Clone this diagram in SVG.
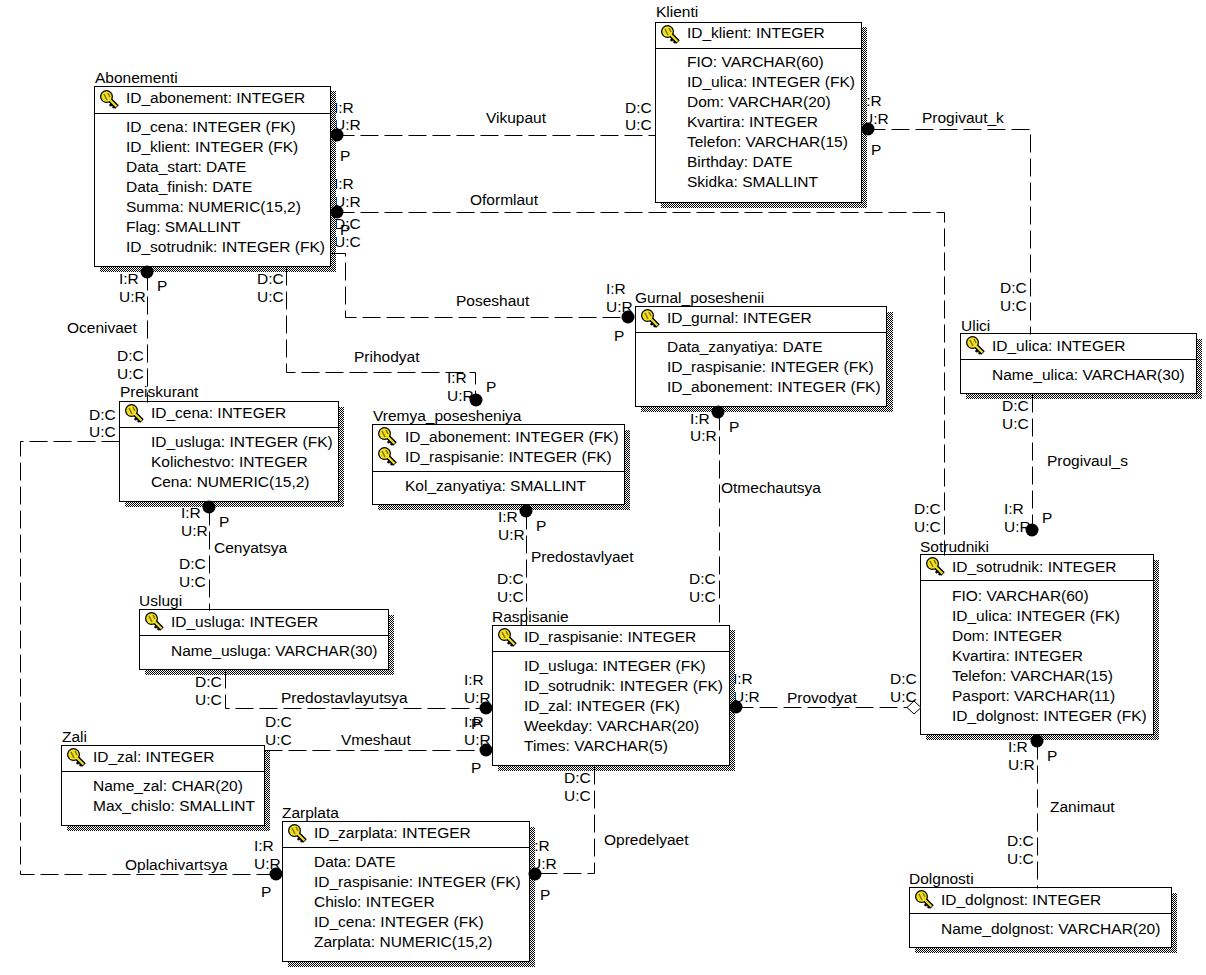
<svg xmlns="http://www.w3.org/2000/svg" width="1206" height="975" viewBox="0 0 1206 975">
<style>
text{font-family:"Liberation Sans",Arial,sans-serif;font-size:15.5px;fill:#000}
.box{fill:#fff;stroke:#000;stroke-width:1}
.sh{fill:url(#dith)}
.div{stroke:#000;stroke-width:1}
.c{fill:none;stroke:#000;stroke-width:1;stroke-dasharray:18 6}
.dot{fill:#000}
</style>
<defs>
<pattern id="dith" width="2" height="2" patternUnits="userSpaceOnUse"><rect width="2" height="2" fill="#fff"/><rect width="1" height="1" fill="#000"/><rect x="1" y="1" width="1" height="1" fill="#000"/></pattern>
<g id="key"><path d="M9 9l8 8" stroke="#000" stroke-width="5" fill="none"/><path d="M12 13l-2 3M15 15l-2 3" stroke="#000" stroke-width="2.500" fill="none"/><circle cx="6.500" cy="6.500" r="6.500" fill="#000"/><circle cx="6.500" cy="6.500" r="5.200" fill="#f0e020"/><path d="M4 4l3 6M8 3l2 4" stroke="#807000" stroke-width="1.500" fill="none"/><path d="M9.500 9.500l7 7" stroke="#f0e020" stroke-width="2.200" fill="none"/></g>
</defs>
<g id="labels">
<text x="486" y="123">Vikupaut</text><text x="470" y="205">Oformlaut</text><text x="456" y="306">Poseshaut</text><text x="354" y="362">Prihodyat</text><text x="67" y="333">Ocenivaet</text><text x="125" y="870">Oplachivartsya</text><text x="214" y="553">Cenyatsya</text><text x="531" y="562">Predostavlyaet</text><text x="721" y="493">Otmechautsya</text><text x="281" y="703">Predostavlayutsya</text><text x="341" y="745">Vmeshaut</text><text x="604" y="845">Opredelyaet</text><text x="787" y="703">Provodyat</text><text x="922" y="123">Progivaut_k</text><text x="1047" y="466">Progivaul_s</text><text x="1050" y="812">Zanimaut</text>
<text x="334" y="113">I:R</text><text x="334" y="130">U:R</text><text x="340" y="161">P</text>
<text x="334" y="189">I:R</text><text x="334" y="207">U:R</text><text x="334" y="229">D:C</text><text x="340" y="235">P</text><text x="334" y="247">U:C</text>
<text x="625" y="113">D:C</text><text x="625" y="130">U:C</text>
<text x="862" y="106">I:R</text><text x="862" y="124">U:R</text><text x="871" y="155">P</text>
<text x="119" y="284">I:R</text><text x="119" y="302">U:R</text><text x="157" y="291">P</text>
<text x="257" y="284">D:C</text><text x="257" y="302">U:C</text>
<text x="606" y="294">I:R</text><text x="606" y="312">U:R</text><text x="614" y="341">P</text>
<text x="447" y="383">I:R</text><text x="447" y="401">U:R</text><text x="486" y="392">P</text>
<text x="1000" y="293">D:C</text><text x="1000" y="311">U:C</text>
<text x="117" y="361">D:C</text><text x="117" y="379">U:C</text>
<text x="89" y="420">D:C</text><text x="89" y="437">U:C</text>
<text x="690" y="424">I:R</text><text x="690" y="441">U:R</text><text x="729" y="432">P</text>
<text x="1002" y="411">D:C</text><text x="1002" y="429">U:C</text>
<text x="1004" y="514">I:R</text><text x="1004" y="532">U:R</text><text x="1042" y="523">P</text>
<text x="914" y="514">D:C</text><text x="914" y="532">U:C</text>
<text x="181" y="518">I:R</text><text x="181" y="536">U:R</text><text x="219" y="527">P</text>
<text x="498" y="522">I:R</text><text x="498" y="540">U:R</text><text x="536" y="531">P</text>
<text x="179" y="569">D:C</text><text x="179" y="587">U:C</text>
<text x="497" y="584">D:C</text><text x="497" y="602">U:C</text>
<text x="689" y="584">D:C</text><text x="689" y="602">U:C</text>
<text x="195" y="687">D:C</text><text x="195" y="705">U:C</text>
<text x="464" y="685">I:R</text><text x="464" y="703">U:R</text>
<text x="733" y="684">I:R</text><text x="733" y="702">U:R</text>
<text x="890" y="684">D:C</text><text x="890" y="702">U:C</text>
<text x="265" y="727">D:C</text><text x="265" y="745">U:C</text>
<text x="464" y="727">I:R</text><text x="471" y="729">P</text><text x="464" y="745">U:R</text><text x="471" y="773">P</text>
<text x="564" y="783">D:C</text><text x="564" y="801">U:C</text>
<text x="1008" y="752">I:R</text><text x="1008" y="770">U:R</text><text x="1047" y="761">P</text>
<text x="1007" y="846">D:C</text><text x="1007" y="864">U:C</text>
<text x="254" y="851">I:R</text><text x="254" y="869">U:R</text><text x="261" y="897">P</text>
<text x="530" y="851">I:R</text><text x="530" y="869">U:R</text><text x="540" y="900">P</text>
</g>
<g id="Abonementi"><rect class="sh" x="100" y="91" width="236" height="181"/><rect class="box" x="94.500" y="86.500" width="236" height="180"/><line class="div" x1="95" x2="330" y1="113.500" y2="113.500"/><use href="#key" x="100" y="90"/><text x="95" y="83">Abonementi</text><text x="126" y="103">ID_abonement: INTEGER</text><text x="126" y="132">ID_cena: INTEGER (FK)</text><text x="126" y="152">ID_klient: INTEGER (FK)</text><text x="126" y="172">Data_start: DATE</text><text x="126" y="192">Data_finish: DATE</text><text x="126" y="212">Summa: NUMERIC(15,2)</text><text x="126" y="232">Flag: SMALLINT</text><text x="126" y="252">ID_sotrudnik: INTEGER (FK)</text></g>
<g id="Klienti"><rect class="sh" x="661" y="27" width="206" height="181"/><rect class="box" x="655.500" y="22.500" width="206" height="180"/><line class="div" x1="656" x2="861" y1="48.500" y2="48.500"/><use href="#key" x="661" y="25"/><text x="656" y="17">Klienti</text><text x="687" y="38">ID_klient: INTEGER</text><text x="687" y="67">FIO: VARCHAR(60)</text><text x="687" y="87">ID_ulica: INTEGER (FK)</text><text x="687" y="107">Dom: VARCHAR(20)</text><text x="687" y="127">Kvartira: INTEGER</text><text x="687" y="147">Telefon: VARCHAR(15)</text><text x="687" y="167">Birthday: DATE</text><text x="687" y="187">Skidka: SMALLINT</text></g>
<g id="Gurnal_poseshenii"><rect class="sh" x="641" y="312" width="252" height="100"/><rect class="box" x="635.500" y="306.500" width="251" height="100"/><line class="div" x1="636" x2="886" y1="332.500" y2="332.500"/><use href="#key" x="641" y="309"/><text x="635" y="303">Gurnal_poseshenii</text><text x="667" y="323">ID_gurnal: INTEGER</text><text x="667" y="352">Data_zanyatiya: DATE</text><text x="667" y="372">ID_raspisanie: INTEGER (FK)</text><text x="667" y="392">ID_abonement: INTEGER (FK)</text></g>
<g id="Ulici"><rect class="sh" x="966" y="339" width="236" height="60"/><rect class="box" x="960.500" y="333.500" width="236" height="60"/><line class="div" x1="961" x2="1196" y1="359.500" y2="359.500"/><use href="#key" x="966" y="336"/><text x="961" y="331">Ulici</text><text x="992" y="351">ID_ulica: INTEGER</text><text x="992" y="380">Name_ulica: VARCHAR(30)</text></g>
<g id="Preiskurant"><rect class="sh" x="125" y="407" width="219" height="100"/><rect class="box" x="119.500" y="401.500" width="219" height="100"/><line class="div" x1="120" x2="338" y1="427.500" y2="427.500"/><use href="#key" x="125" y="404"/><text x="120" y="397">Preiskurant</text><text x="151" y="418">ID_cena: INTEGER</text><text x="151" y="447">ID_usluga: INTEGER (FK)</text><text x="151" y="467">Kolichestvo: INTEGER</text><text x="151" y="487">Cena: NUMERIC(15,2)</text></g>
<g id="Vremya_posesheniya"><rect class="sh" x="378" y="430" width="252" height="80"/><rect class="box" x="372.500" y="424.500" width="252" height="80"/><line class="div" x1="373" x2="624" y1="471.500" y2="471.500"/><use href="#key" x="378" y="427"/><use href="#key" x="378" y="447"/><text x="373" y="421">Vremya_posesheniya</text><text x="405" y="442">ID_abonement: INTEGER (FK)</text><text x="405" y="462">ID_raspisanie: INTEGER (FK)</text><text x="405" y="491">Kol_zanyatiya: SMALLINT</text></g>
<g id="Sotrudniki"><rect class="sh" x="926" y="560" width="233" height="180"/><rect class="box" x="920.500" y="554.500" width="233" height="180"/><line class="div" x1="921" x2="1153" y1="580.500" y2="580.500"/><use href="#key" x="926" y="557"/><text x="920" y="552">Sotrudniki</text><text x="952" y="572">ID_sotrudnik: INTEGER</text><text x="952" y="601">FIO: VARCHAR(60)</text><text x="952" y="621">ID_ulica: INTEGER (FK)</text><text x="952" y="641">Dom: INTEGER</text><text x="952" y="661">Kvartira: INTEGER</text><text x="952" y="681">Telefon: VARCHAR(15)</text><text x="952" y="701">Pasport: VARCHAR(11)</text><text x="952" y="721">ID_dolgnost: INTEGER (FK)</text></g>
<g id="Uslugi"><rect class="sh" x="145" y="615" width="249" height="60"/><rect class="box" x="139.500" y="609.500" width="249" height="60"/><line class="div" x1="140" x2="388" y1="635.500" y2="635.500"/><use href="#key" x="145" y="612"/><text x="139" y="606">Uslugi</text><text x="171" y="627">ID_usluga: INTEGER</text><text x="171" y="656">Name_usluga: VARCHAR(30)</text></g>
<g id="Raspisanie"><rect class="sh" x="498" y="630" width="237" height="141"/><rect class="box" x="492.500" y="625.500" width="237" height="140"/><line class="div" x1="493" x2="729" y1="651.500" y2="651.500"/><use href="#key" x="498" y="628"/><text x="492" y="622">Raspisanie</text><text x="524" y="642">ID_raspisanie: INTEGER</text><text x="524" y="671">ID_usluga: INTEGER (FK)</text><text x="524" y="691">ID_sotrudnik: INTEGER (FK)</text><text x="524" y="711">ID_zal: INTEGER (FK)</text><text x="524" y="731">Weekday: VARCHAR(20)</text><text x="524" y="751">Times: VARCHAR(5)</text></g>
<g id="Zali"><rect class="sh" x="67" y="751" width="203" height="80"/><rect class="box" x="61.500" y="745.500" width="203" height="80"/><line class="div" x1="62" x2="264" y1="771.500" y2="771.500"/><use href="#key" x="67" y="748"/><text x="62" y="742">Zali</text><text x="93" y="762">ID_zal: INTEGER</text><text x="93" y="791">Name_zal: CHAR(20)</text><text x="93" y="811">Max_chislo: SMALLINT</text></g>
<g id="Zarplata"><rect class="sh" x="288" y="827" width="247" height="140"/><rect class="box" x="282.500" y="821.500" width="247" height="140"/><line class="div" x1="283" x2="529" y1="847.500" y2="847.500"/><use href="#key" x="288" y="824"/><text x="282" y="818">Zarplata</text><text x="314" y="838">ID_zarplata: INTEGER</text><text x="314" y="867">Data: DATE</text><text x="314" y="887">ID_raspisanie: INTEGER (FK)</text><text x="314" y="907">Chislo: INTEGER</text><text x="314" y="927">ID_cena: INTEGER (FK)</text><text x="314" y="947">Zarplata: NUMERIC(15,2)</text></g>
<g id="Dolgnosti"><rect class="sh" x="915" y="893" width="262" height="60"/><rect class="box" x="909.500" y="887.500" width="262" height="60"/><line class="div" x1="910" x2="1171" y1="913.500" y2="913.500"/><use href="#key" x="915" y="890"/><text x="909" y="884">Dolgnosti</text><text x="941" y="905">ID_dolgnost: INTEGER</text><text x="941" y="934">Name_dolgnost: VARCHAR(20)</text></g>
<g id="connectors">
<g transform="translate(-.5 .5)">
<path class="c" d="M337 135H656"/>
<path class="c" d="M337 212H945V555"/>
<path class="c" d="M331 253H346V317H628"/>
<path class="c" d="M287 267V372H476V400"/>
<path class="c" d="M148 272V402"/>
<path class="c" d="M120 441H21V874H276"/>
<path class="c" d="M210 507V610"/>
<path class="c" d="M527 511V625"/>
<path class="c" d="M720 412V625"/>
<path class="c" d="M226 670V708H487"/>
<path class="c" d="M265 750H487"/>
<path class="c" d="M595 766V873H535"/>
<path class="c" d="M736 707H921"/>
<path class="c" d="M868 129H1031V334"/>
<path class="c" d="M1033 394V530"/>
<path class="c" d="M1038 741V888"/>
</g>
<circle class="dot" cx="337" cy="135" r="6.500"/><circle class="dot" cx="337" cy="212" r="6.500"/><circle class="dot" cx="628" cy="317" r="6.500"/><circle class="dot" cx="476" cy="400" r="6.500"/><circle class="dot" cx="147" cy="272" r="6.500"/><circle class="dot" cx="276" cy="874" r="6.500"/><circle class="dot" cx="209" cy="507" r="6.500"/><circle class="dot" cx="526" cy="511" r="6.500"/><circle class="dot" cx="718" cy="412" r="6.500"/><circle class="dot" cx="486" cy="708" r="6.500"/><circle class="dot" cx="486" cy="750" r="6.500"/><circle class="dot" cx="535" cy="874" r="6.500"/><circle class="dot" cx="736" cy="707" r="6.500"/><circle class="dot" cx="868" cy="129" r="6.500"/><circle class="dot" cx="1032" cy="530" r="6.500"/><circle class="dot" cx="1037" cy="741" r="6.500"/>
<path d="M907 707.500l7-6.500 7 6.500-7 6.500z" fill="#fff" stroke="#000"/>
</g>
</svg>
